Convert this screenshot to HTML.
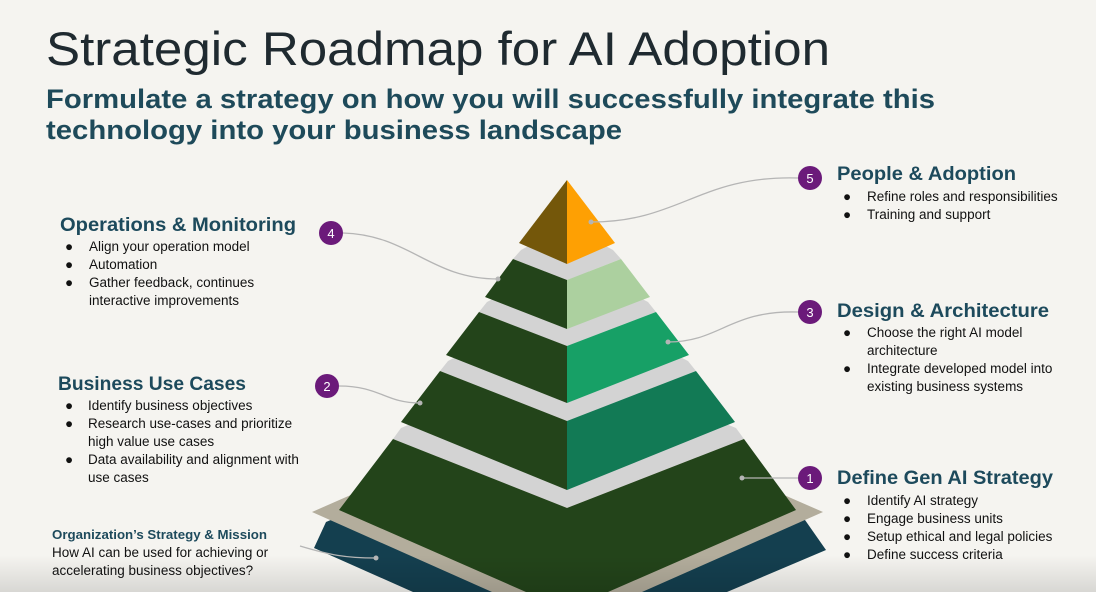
<!DOCTYPE html>
<html><head><meta charset="utf-8"><style>
html,body{margin:0;padding:0;background:#f5f4f0;width:1096px;height:592px;overflow:hidden;}
svg{display:block;}
text{font-family:"Liberation Sans",sans-serif;}
.h{font-size:19px;font-weight:bold;fill:#1d4a5c;}
.b{font-size:13.5px;fill:#111;}
.n{font-size:13px;fill:#fff;text-anchor:middle;}
</style></head><body>
<svg width="1096" height="592" viewBox="0 0 1096 592" xmlns="http://www.w3.org/2000/svg" overflow="hidden">
<defs><linearGradient id="g" x1="0" y1="0" x2="0" y2="1"><stop offset="0" stop-color="#000" stop-opacity="0"/><stop offset="1" stop-color="#000" stop-opacity="0.12"/></linearGradient></defs>
<rect width="1096" height="592" fill="#f5f4f0"/>
<text x="46" y="65" textLength="784" lengthAdjust="spacingAndGlyphs" style="font-size:47px;fill:#1f2a30;">Strategic Roadmap for AI Adoption</text>
<text x="46" y="108" textLength="889" lengthAdjust="spacingAndGlyphs" style="font-size:27px;font-weight:bold;fill:#1e4a5a;">Formulate a strategy on how you will successfully integrate this</text>
<text x="46" y="139" textLength="576" lengthAdjust="spacingAndGlyphs" style="font-size:27px;font-weight:bold;fill:#1e4a5a;">technology into your business landscape</text>

<polygon points="326,522 567,420 805,520 826,550 727,592 413,592 314,548" fill="#143f4f"/>
<polygon points="312,512 567,400 823,512 642,592 492,592" fill="#b3ad9c"/>
<polygon points="393,439 567,508 744,439 736,428 567,360 401,428" fill="#d3d3d3"/>
<polygon points="393,439 567,508 744,439 796,510 608,592 526,592 339,510" fill="#23441a"/>
<polygon points="440,371 567,421 696,371 688,361 567,300 448,361" fill="#d3d3d3"/>
<polygon points="440,371 567,421 567,490 401,422" fill="#23441a"/>
<polygon points="567,421 696,371 735,422 567,490" fill="#127a55"/>
<polygon points="479,312 567,346 656,312 648,302 567,260 487,302" fill="#d3d3d3"/>
<polygon points="479,312 567,346 567,403 446,355" fill="#23441a"/>
<polygon points="567,346 656,312 689,355 567,403" fill="#17a066"/>
<polygon points="513,259 567,280 621,259 613,250 567,225 521,250" fill="#d3d3d3"/>
<polygon points="513,259 567,280 567,329 485,297" fill="#23441a"/>
<polygon points="567,280 621,259 650,297 567,329" fill="#acd09f"/>
<polygon points="567,180 519,243 567,264" fill="#74570a"/>
<polygon points="567,180 615,243 567,264" fill="#fea003"/>
<rect x="0" y="555" width="1096" height="37" fill="url(#g)"/>

<g fill="none" stroke="#b5b5b5" stroke-width="1.3">
<path d="M798,178 C700,175 680,222 591,222"/>
<path d="M343,233 C410,235 430,279 498,279"/>
<path d="M798,312 C730,310 720,342 668,342"/>
<path d="M339,386 C380,386 385,403 420,403"/>
<path d="M798,478 L742,478"/>
<path d="M300,546 C330,555 345,558 376,558"/>
</g>
<g fill="#b5b5b5"><circle cx="591" cy="222" r="2.5"/><circle cx="498" cy="279" r="2.5"/><circle cx="668" cy="342" r="2.5"/><circle cx="420" cy="403" r="2.5"/><circle cx="742" cy="478" r="2.5"/><circle cx="376" cy="558" r="2.5"/></g>
<g fill="#6b1a7a"><circle cx="810" cy="178" r="12"/><circle cx="331" cy="233" r="12"/><circle cx="810" cy="312" r="12"/><circle cx="327" cy="386" r="12"/><circle cx="810" cy="478" r="12"/></g>
<text class="n" x="810" y="183">5</text><text class="n" x="331" y="238">4</text><text class="n" x="810" y="317">3</text><text class="n" x="327" y="391">2</text><text class="n" x="810" y="483">1</text>

<text class="h" x="837" y="180" textLength="179" lengthAdjust="spacingAndGlyphs">People &amp; Adoption</text>
<text class="b" x="843" y="201">●</text><text class="b" x="867" y="201">Refine roles and responsibilities</text>
<text class="b" x="843" y="219">●</text><text class="b" x="867" y="219">Training and support</text>

<text class="h" x="837" y="317" textLength="212" lengthAdjust="spacingAndGlyphs">Design &amp; Architecture</text>
<text class="b" x="843" y="337">●</text><text class="b" x="867" y="337">Choose the right AI model</text>
<text class="b" x="867" y="355">architecture</text>
<text class="b" x="843" y="373">●</text><text class="b" x="867" y="373">Integrate developed model into</text>
<text class="b" x="867" y="391">existing business systems</text>

<text class="h" x="837" y="484" textLength="216" lengthAdjust="spacingAndGlyphs">Define Gen AI Strategy</text>
<text class="b" x="843" y="505">●</text><text class="b" x="867" y="505">Identify AI strategy</text>
<text class="b" x="843" y="523">●</text><text class="b" x="867" y="523">Engage business units</text>
<text class="b" x="843" y="541">●</text><text class="b" x="867" y="541">Setup ethical and legal policies</text>
<text class="b" x="843" y="559">●</text><text class="b" x="867" y="559">Define success criteria</text>

<text class="h" x="60" y="231" textLength="236" lengthAdjust="spacingAndGlyphs">Operations &amp; Monitoring</text>
<text class="b" x="65" y="251">●</text><text class="b" x="89" y="251">Align your operation model</text>
<text class="b" x="65" y="269">●</text><text class="b" x="89" y="269">Automation</text>
<text class="b" x="65" y="287">●</text><text class="b" x="89" y="287">Gather feedback, continues</text>
<text class="b" x="89" y="305">interactive improvements</text>

<text class="h" x="58" y="390" textLength="188" lengthAdjust="spacingAndGlyphs">Business Use Cases</text>
<text class="b" x="65" y="410">●</text><text class="b" x="88" y="410">Identify business objectives</text>
<text class="b" x="65" y="428">●</text><text class="b" x="88" y="428">Research use-cases and prioritize</text>
<text class="b" x="88" y="446">high value use cases</text>
<text class="b" x="65" y="464">●</text><text class="b" x="88" y="464">Data availability and alignment with</text>
<text class="b" x="88" y="482">use cases</text>

<text x="52" y="539" textLength="215" lengthAdjust="spacingAndGlyphs" style="font-size:13px;font-weight:bold;fill:#1d4a5c;">Organization’s Strategy &amp; Mission</text>
<text class="b" x="52" y="557">How AI can be used for achieving or</text>
<text class="b" x="52" y="575">accelerating business objectives?</text>
</svg>
</body></html>
